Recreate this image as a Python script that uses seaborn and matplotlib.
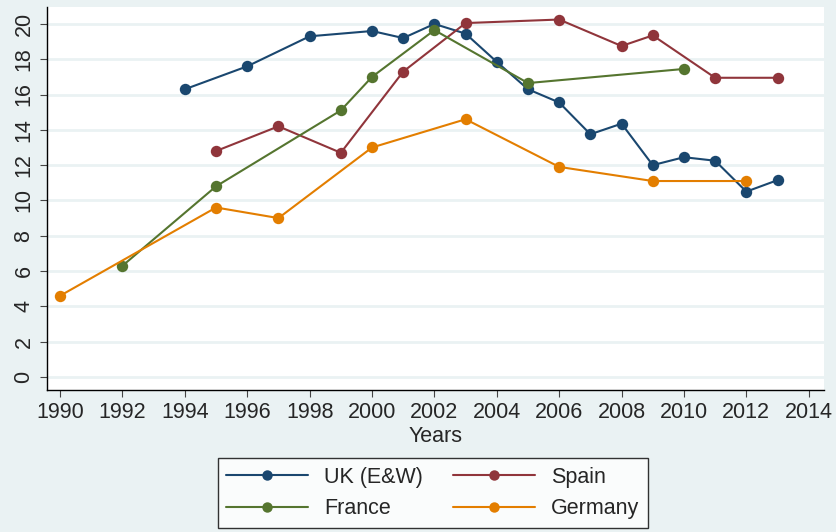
import matplotlib
matplotlib.use("Agg")
import matplotlib.pyplot as plt
import seaborn as sns
import pandas as pd
from matplotlib.lines import Line2D

uk_years = [1994, 1996, 1998, 2000, 2001, 2002, 2003, 2004, 2005, 2006, 2007, 2008, 2009, 2010, 2011, 2012, 2013]
uk_vals = [16.3, 17.6, 19.3, 19.6, 19.2, 20.0, 19.45, 17.85, 16.3, 15.55, 13.75, 14.35, 12.0, 12.45, 12.25, 10.5, 11.15]
spain_years = [1995, 1997, 1999, 2001, 2003, 2006, 2008, 2009, 2011, 2013]
spain_vals = [12.8, 14.2, 12.7, 17.3, 20.05, 20.25, 18.75, 19.35, 16.95, 16.95]
france_years = [1992, 1995, 1999, 2000, 2002, 2005, 2010]
france_vals = [6.3, 10.8, 15.1, 17.0, 19.65, 16.65, 17.45]
germany_years = [1990, 1995, 1997, 2000, 2003, 2006, 2009, 2012]
germany_vals = [4.6, 9.6, 9.0, 13.0, 14.6, 11.9, 11.1, 11.1]

series_names = ["UK (E&W)", "Spain", "France", "Germany"]
colors = {"UK (E&W)": "#1A476F", "Spain": "#90353B", "France": "#55752F", "Germany": "#E37E00"}
x_ticks = list(range(1990, 2015, 2))
y_ticks = list(range(0, 21, 2))

df = pd.concat([
    pd.DataFrame({"Years": uk_years, "value": uk_vals, "country": "UK (E&W)"}),
    pd.DataFrame({"Years": spain_years, "value": spain_vals, "country": "Spain"}),
    pd.DataFrame({"Years": france_years, "value": france_vals, "country": "France"}),
    pd.DataFrame({"Years": germany_years, "value": germany_vals, "country": "Germany"}),
])

sns.set_theme(style="white")
plt.rcParams["font.family"] = ["Liberation Sans", "DejaVu Sans"]

bg = "#EAF2F3"
fig = plt.figure(figsize=(8.36, 5.32), dpi=100, facecolor=bg)
ax = fig.add_axes([47/836, 1-390/532, (824-47)/836, (390-7)/532])
ax.set_facecolor("white")

for name in series_names:
    sub = df[df["country"] == name]
    sns.lineplot(data=sub, x="Years", y="value", color=colors[name], marker="o",
                 markersize=8.2, markeredgewidth=0, linewidth=1.5, ax=ax, legend=False)

ax.set_xlim(1989.58, 2014.49)
ax.set_ylim(-0.74, 20.96)
ax.set_xticks(x_ticks)
ax.set_yticks(y_ticks)
ax.set_xticklabels([str(t) for t in x_ticks], fontsize=15.5)
ax.set_yticklabels([str(t) for t in y_ticks], fontsize=15.5, rotation=90, va="center")
ax.yaxis.grid(True, color=bg, linewidth=2)
ax.xaxis.grid(False)
ax.set_axisbelow(True)
for s in ["top", "right"]:
    ax.spines[s].set_visible(False)
for s in ["left", "bottom"]:
    ax.spines[s].set_color("black")
    ax.spines[s].set_linewidth(1.0)
ax.tick_params(axis="both", which="both", direction="out", length=5, width=0.8,
               color="#444444", left=True, bottom=True, pad=4)
ax.set_xlabel("Years", fontsize=15.5, labelpad=2)
ax.set_ylabel("")

order = ["UK (E&W)", "France", "Spain", "Germany"]
handles = [Line2D([0], [0], color=colors[n], marker="o", markersize=7.5,
                  markeredgewidth=0, linewidth=1.5) for n in order]
leg = fig.legend(handles, order, loc="center", bbox_to_anchor=(433/836, 1-493/532),
                 ncol=2, fontsize=15.5, frameon=True, fancybox=False, edgecolor="black",
                 facecolor="white", handlelength=3.8, columnspacing=1.4,
                 handletextpad=0.75, labelspacing=0.5, borderpad=0.4)
leg.get_frame().set_linewidth(1.0)

fig.savefig("out.png", dpi=100, facecolor=bg)
